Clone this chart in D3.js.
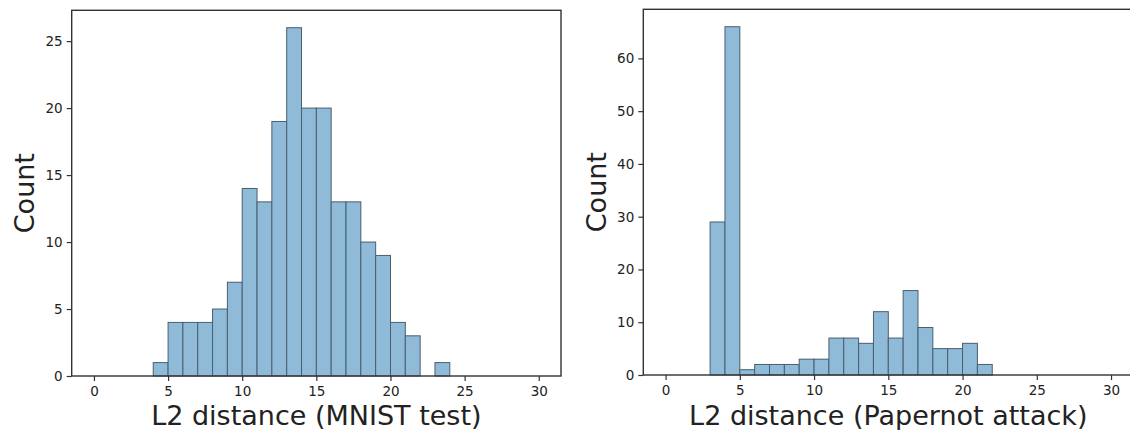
<!DOCTYPE html>
<html>
<head>
<meta charset="utf-8">
<script src="https://cdn.jsdelivr.net/npm/d3@7"></script>
<style>
  body { margin: 0; background: #fff; }
  svg { display: block; }
  text { font-family: "DejaVu Sans", sans-serif; fill: #222; }
</style>
</head>
<body>
<svg id="chart"></svg>
<script>
// histogram bin edges, width 1, 0..30
var binEdges = d3.range(0, 31);

// counts per bin [i, i+1)
var mnistCounts = [0, 0, 0, 0, 1, 4, 4, 4, 5, 7, 14, 13, 19, 26, 20, 20, 13, 13, 10, 9, 4, 3, 0, 1, 0, 0, 0, 0, 0, 0];
var papernotCounts = [0, 0, 0, 29, 66, 1, 2, 2, 2, 3, 3, 7, 7, 6, 12, 7, 16, 9, 5, 5, 6, 2, 0, 0, 0, 0, 0, 0, 0, 0];

var xTicks = [0, 5, 10, 15, 20, 25, 30];
var mnistYTicks = [0, 5, 10, 15, 20, 25];
var papernotYTicks = [0, 10, 20, 30, 40, 50, 60];

var width = 1130;
var height = 430;

var svg = d3.select("#chart").attr("width", width).attr("height", height);

function drawHist(panel) {
  var g = svg.append("g");

  var bins = panel.counts.map(function (c, i) {
    return {x0: binEdges[i], x1: binEdges[i + 1], count: c};
  }).filter(function (d) { return d.count > 0; });

  var maxCount = d3.max(panel.counts);
  var x = d3.scaleLinear().domain([-1.5, 31.5]).range([panel.left, panel.right]);
  var y = d3.scaleLinear().domain([0, maxCount * 1.05]).range([panel.bottom, panel.top]);

  g.append("g").selectAll("rect")
    .data(bins)
    .enter()
    .append("rect")
    .attr("x", function (d) { return x(d.x0); })
    .attr("y", function (d) { return y(d.count); })
    .attr("width", function (d) { return x(d.x1) - x(d.x0); })
    .attr("height", function (d) { return y(0) - y(d.count); })
    .attr("fill", "#8fbbd9")
    .attr("stroke", "#4a5e6e")
    .attr("stroke-width", 1);

  var xAxis = g.append("g")
    .attr("transform", "translate(0," + panel.bottom + ")")
    .call(d3.axisBottom(x).tickValues(xTicks).tickSize(5).tickPadding(5).tickFormat(d3.format("d")));

  var yAxis = g.append("g")
    .attr("transform", "translate(" + panel.left + ",0)")
    .call(d3.axisLeft(y).tickValues(panel.yTicks).tickSize(5).tickPadding(4).tickFormat(d3.format("d")));

  [xAxis, yAxis].forEach(function (a) {
    a.select(".domain").remove();
    a.selectAll(".tick line").attr("stroke", "#333").attr("stroke-width", 1.2);
    a.selectAll(".tick text")
      .style("font-family", "DejaVu Sans")
      .style("font-size", "13.5px")
      .attr("fill", "#222");
  });

  // frame (all four spines)
  g.append("rect")
    .attr("x", panel.left)
    .attr("y", panel.top)
    .attr("width", x(31.5) - panel.left)
    .attr("height", panel.bottom - panel.top)
    .attr("fill", "none")
    .attr("stroke", "#333")
    .attr("stroke-width", 1.4);

  g.append("text")
    .attr("x", (panel.left + panel.right) / 2)
    .attr("y", 425)
    .attr("text-anchor", "middle")
    .style("font-size", "27px")
    .text(panel.xLabel);

  g.append("text")
    .attr("transform", "translate(" + panel.yLabelX + "," + ((panel.top + panel.bottom) / 2) + ") rotate(-90)")
    .attr("text-anchor", "middle")
    .style("font-size", "27px")
    .text("Count");
}

drawHist({
  counts: mnistCounts,
  yTicks: mnistYTicks,
  left: 71.7, right: 561, top: 10.3, bottom: 376,
  xLabel: "L2 distance (MNIST test)",
  yLabelX: 33.5
});

drawHist({
  counts: papernotCounts,
  yTicks: papernotYTicks,
  left: 643.3, right: 1133.3, top: 9.3, bottom: 375,
  xLabel: "L2 distance (Papernot attack)",
  yLabelX: 606
});
</script>
</body>
</html>
